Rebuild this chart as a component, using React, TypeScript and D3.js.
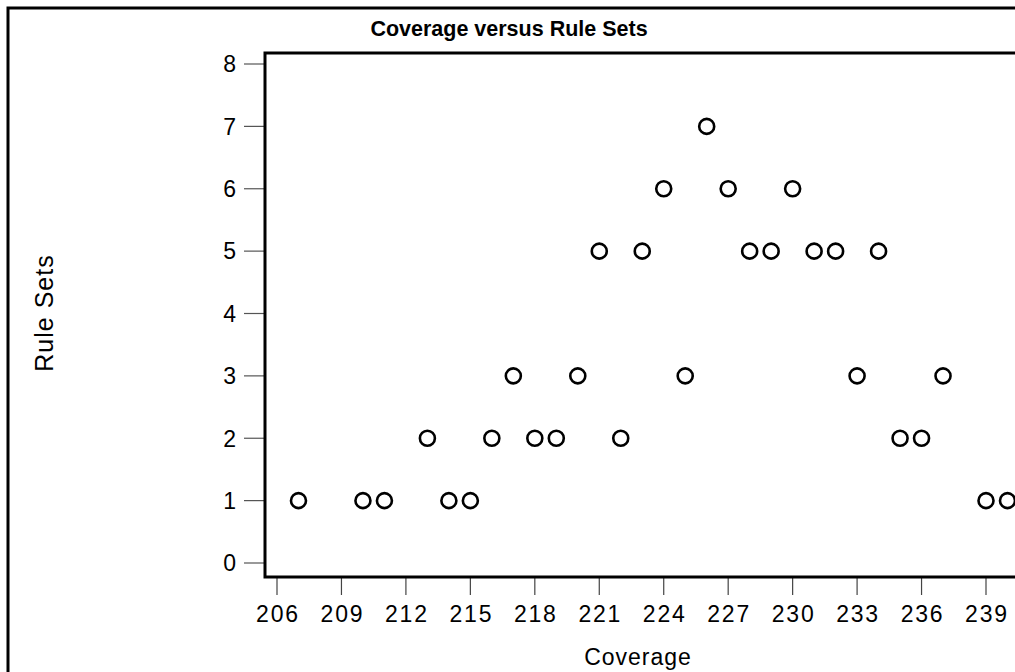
import React from "react";
import * as d3 from "d3";

const coverage = [207, 210, 211, 213, 214, 215, 216, 217, 218, 219, 220, 221, 222, 223, 224, 225, 226, 227, 228, 229, 230, 231, 232, 233, 234, 235, 236, 237, 239, 240];
const ruleSets = [1, 1, 1, 2, 1, 1, 2, 3, 2, 2, 3, 5, 2, 5, 6, 3, 7, 6, 5, 5, 6, 5, 5, 3, 5, 2, 2, 3, 1, 1];
const xTicks = [206, 209, 212, 215, 218, 221, 224, 227, 230, 233, 236, 239];
const yTicks = [0, 1, 2, 3, 4, 5, 6, 7, 8];

const W = 1015;
const H = 672;
const FONT = "'Liberation Sans', Arial, sans-serif";

export default function App() {
  const x = d3.scaleLinear().domain([206, 239]).range([277, 986]);
  const y = d3.scaleLinear().domain([0, 8]).range([563, 64]);
  const left = 265;
  const top = 53;
  const bottom = 577;

  return (
    <svg
      width={W}
      height={H}
      style={{ position: "absolute", left: 0, top: 0, background: "#fff" }}
      fontFamily={FONT}
    >
      {/* outer frame */}
      <rect x={8} y={8} width={W + 20} height={H + 20} fill="none" stroke="#000" strokeWidth={3} />

      <text x={509} y={36} textAnchor="middle" fontSize={21.5} fontWeight="bold">
        Coverage versus Rule Sets
      </text>

      {/* y axis ticks and labels */}
      {yTicks.map((t) => (
        <g key={"y" + t}>
          <line x1={244} x2={left} y1={y(t)} y2={y(t)} stroke="#555" strokeWidth={1.2} />
          <text x={236} y={y(t)} dy="0.36em" textAnchor="end" fontSize={23}>
            {t}
          </text>
        </g>
      ))}

      {/* x axis ticks and labels */}
      {xTicks.map((t) => (
        <g key={"x" + t}>
          <line x1={x(t)} x2={x(t)} y1={bottom} y2={595} stroke="#444" strokeWidth={1.2} />
          <text x={x(t) + 1} y={622} textAnchor="middle" fontSize={23} letterSpacing={1.8}>
            {t}
          </text>
        </g>
      ))}

      {/* plot frame */}
      <path
        d={`M${W + 20},${top} H${left} V${bottom} H${W + 20}`}
        fill="none"
        stroke="#000"
        strokeWidth={3}
      />

      <text x={638} y={665} textAnchor="middle" fontSize={23} letterSpacing={1}>
        Coverage
      </text>
      <text
        transform={`translate(53,313) rotate(-90)`}
        textAnchor="middle"
        fontSize={25}
        letterSpacing={1}
      >
        Rule Sets
      </text>

      {coverage.map((c, i) => (
        <circle
          key={i}
          cx={x(c)}
          cy={y(ruleSets[i])}
          r={7.5}
          fill="#fff"
          stroke="#000"
          strokeWidth={2.6}
        />
      ))}
    </svg>
  );
}
